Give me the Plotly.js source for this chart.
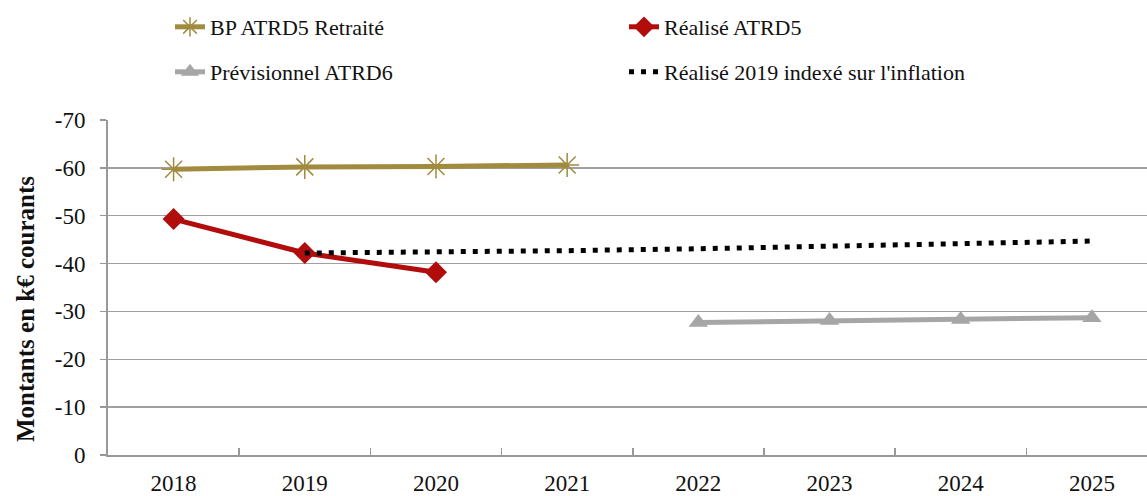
<!DOCTYPE html>
<html><head><meta charset="utf-8">
<script src="https://cdn.plot.ly/plotly-3.0.1.min.js"></script>
<style>html,body{margin:0;padding:0;background:#fff}#chart{width:1147px;height:496px}
#chart .legendtext, #chart .legendtext tspan{font-family:"Liberation Serif","Times New Roman",serif !important;}</style>
</head><body><div id="chart"></div>
<script>
const years = ['2018','2019','2020','2021','2022','2023','2024','2025'];
const seriesNames = ['BP ATRD5 Retraité', 'Réalisé ATRD5', 'Prévisionnel ATRD6', "Réalisé 2019 indexé sur l'inflation"];
const bpYears = ['2018','2019','2020','2021'];
const bpValues = [-59.7, -60.2, -60.3, -60.6];
const realYears = ['2018','2019','2020'];
const realValues = [-49.3, -42.2, -38.2];
const prevYears = ['2022','2023','2024','2025'];
const prevValues = [-27.7, -28.1, -28.3, -28.7];
const inflYears = ['2019','2020','2021','2022','2023','2024','2025'];
const inflValues = [-42.2, -42.4, -42.7, -43.1, -43.6, -44.1, -44.7];
const yTickVals = [0, -10, -20, -30, -40, -50, -60, -70];
const yTickText = ['0', '-10', '-20', '-30', '-40', '-50', '-60', '-70'];
const yTitle = 'Montants en k€ courants';

const FONT = 'Liberation Serif, Times New Roman, serif';
const gold = '#A08B3E', red = '#B20D0D', grey = '#A6A6A6';
const serifName = n => '<span style="font-family:Liberation Serif">' + n + '</span>';

const traces = [
  {x: bpYears, y: bpValues, name: serifName(seriesNames[0]), mode: 'lines+markers', legend: 'legend',
   line: {color: gold, width: 5}, marker: {symbol: 'asterisk-open', size: 20, color: gold, line: {color: gold, width: 1.5}}},
  {x: realYears, y: realValues, name: serifName(seriesNames[1]), mode: 'lines+markers', legend: 'legend2',
   line: {color: red, width: 5}, marker: {symbol: 'diamond', size: 17, color: red}},
  {x: prevYears, y: prevValues, name: serifName(seriesNames[2]), mode: 'lines+markers', legend: 'legend3',
   line: {color: grey, width: 5}, marker: {symbol: 'triangle-up', size: 17, color: grey}},
  {x: inflYears, y: inflValues, name: serifName(seriesNames[3]), mode: 'lines', legend: 'legend4',
   line: {color: '#000', width: 5, dash: '5px,7px'}}
];

function mkLegend(xPix, yPix) {
  return {orientation: 'v', xanchor: 'left', yanchor: 'middle', x: (xPix - 108) / 1039, y: 1 + (120 - yPix) / 335,
    font: {family: 'Liberation Serif', size: 22, color: '#111'}, bgcolor: 'rgba(0,0,0,0)', itemwidth: 30};
}

const layout = {
  width: 1147, height: 496,
  margin: {l: 108, r: 0, t: 120, b: 41},
  paper_bgcolor: '#fff', plot_bgcolor: '#fff',
  font: {family: FONT, size: 22, color: '#111'},
  showlegend: true,
  legend: mkLegend(170, 27),
  legend2: mkLegend(624, 27),
  legend3: mkLegend(170, 72),
  legend4: mkLegend(624, 72),
  xaxis: {type: 'category', categoryorder: 'array', categoryarray: years, range: [-0.5, 7.42],
    showgrid: false, showline: true, linecolor: '#999', linewidth: 2,
    ticks: 'inside', tickson: 'boundaries', ticklen: 7, tickcolor: '#999', tickwidth: 1.5, ticklabelstandoff: 6,
    tickfont: {family: FONT, size: 23, color: '#111'}, zeroline: false},
  yaxis: {range: [0, -70], tickvals: yTickVals, ticktext: yTickText,
    showgrid: true, gridcolor: '#A0A0A0', gridwidth: 1.5, zeroline: false,
    showline: true, linecolor: '#999', linewidth: 2, ticks: 'outside', ticklen: 6, tickcolor: '#999', tickwidth: 1.5, ticklabelstandoff: 10,
    tickfont: {family: FONT, size: 23, color: '#111'}},
  annotations: [{text: '<b>' + yTitle + '</b>', textangle: -90, xref: 'paper', yref: 'paper',
    x: (25 - 108) / 1039, y: (455 - 309) / 335, xanchor: 'center', yanchor: 'middle', showarrow: false,
    font: {family: FONT, size: 25, color: '#111'}}]
};

Plotly.newPlot('chart', traces, layout, {displayModeBar: false, staticPlot: true}).then(gd => {
  document.querySelectorAll('#chart .legendtext').forEach(el => {
    el.style.setProperty('font-family', 'Liberation Serif, Times New Roman, serif', 'important');
  });
});
</script></body></html>
